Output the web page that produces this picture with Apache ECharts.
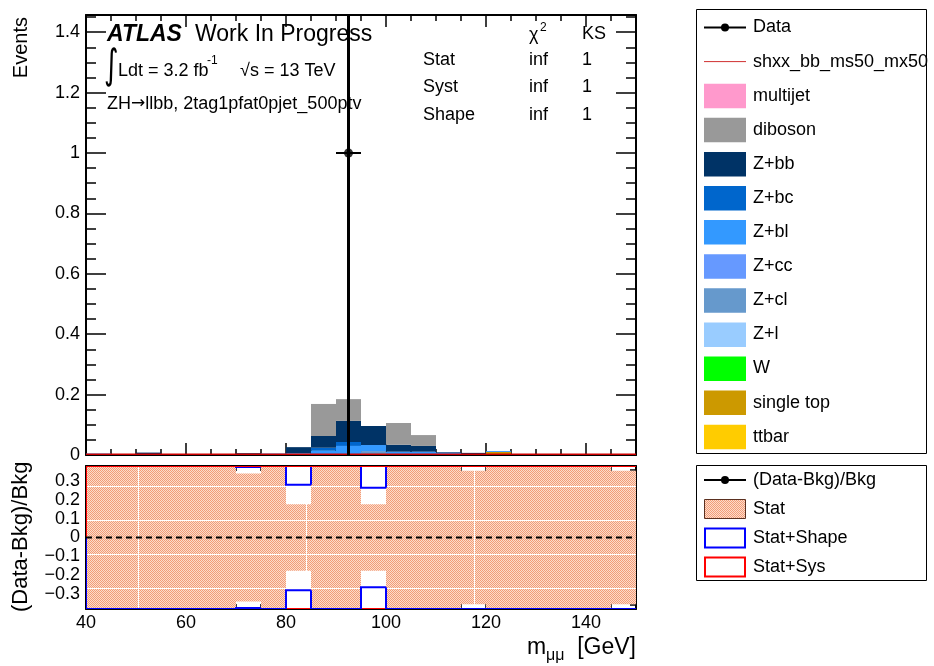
<!DOCTYPE html>
<html>
<head>
<meta charset="utf-8">
<script src="https://cdn.jsdelivr.net/npm/echarts@6/dist/echarts.min.js"></script>
<style>
  html, body { margin: 0; padding: 0; background: #ffffff; }
  #chart { width: 934px; height: 666px; }
</style>
</head>
<body>
<div id="chart"></div>
<script>
// ---- binning: 5 GeV bins of m_mumu from 40 to 150 GeV ----
const binLow = [40, 45, 50, 55, 60, 65, 70, 75, 80, 85, 90, 95, 100, 105, 110, 115, 120, 125, 130, 135, 140, 145];
const binWidth = 5;

// ---- background components (events per bin) ----
const ttbar     = [0, 0, 0, 0, 0, 0, 0, 0, 0, 0, 0, 0, 0, 0, 0, 0, 0, 0, 0, 0, 0, 0];
const singleTop = [0, 0, 0, 0, 0, 0, 0, 0, 0, 0, 0, 0, 0, 0, 0, 0, 0.010, 0, 0, 0, 0, 0];
const wjets     = [0, 0, 0, 0, 0, 0, 0, 0, 0, 0, 0, 0, 0, 0, 0, 0, 0, 0, 0, 0, 0, 0];
const zl        = [0, 0, 0, 0, 0, 0, 0, 0, 0, 0, 0, 0, 0, 0, 0, 0, 0, 0, 0, 0, 0, 0];
const zcl       = [0, 0, 0, 0, 0, 0.003, 0, 0, 0, 0, 0, 0.013, 0, 0, 0, 0, 0, 0, 0, 0, 0, 0];
const zcc       = [0, 0, 0, 0, 0, 0, 0, 0, 0, 0, 0, 0, 0, 0, 0, 0, 0, 0, 0, 0, 0, 0];
const zbl       = [0.005, 0, 0.002, 0, 0, 0, 0.002, 0.005, 0.006, 0.014, 0.030, 0.020, 0.011, 0.011, 0.008, 0.002, 0.003, 0, 0.002, 0, 0, 0];
const zbc       = [0, 0, 0, 0, 0, 0, 0, 0, 0, 0.010, 0.013, 0, 0, 0, 0, 0, 0, 0, 0, 0, 0, 0];
const zbb       = [0, 0, 0.006, 0, 0, 0, 0.004, 0, 0.020, 0.039, 0.070, 0.063, 0.023, 0.019, 0.002, 0.005, 0, 0, 0, 0, 0, 0];
const diboson   = [0, 0, 0, 0, 0, 0, 0, 0, 0, 0.106, 0.072, 0, 0.072, 0.036, 0, 0, 0, 0, 0, 0, 0, 0];
const multijet  = [0, 0, 0, 0, 0, 0, 0, 0, 0, 0, 0, 0, 0, 0, 0, 0, 0, 0, 0, 0, 0, 0];

// signal hypothesis shxx_bb_ms50_mx50
const signal    = [0, 0, 0, 0, 0, 0, 0, 0, 0, 0, 0, 0, 0, 0, 0, 0, 0, 0, 0, 0, 0, 0];

// observed data and its error bar (down / up)
const dataCounts  = [0, 0, 0, 0, 0, 0, 0, 0, 0, 0, 1, 0, 0, 0, 0, 0, 0, 0, 0, 0, 0, 0];
const dataErrDown = [0, 0, 0, 0, 0, 0, 0, 0, 0, 0, 1, 0, 0, 0, 0, 0, 0, 0, 0, 0, 0, 0];
const dataErrUp   = [0, 0, 0, 0, 0, 0, 0, 0, 0, 0, 1, 0, 0, 0, 0, 0, 0, 0, 0, 0, 0, 0];

// relative uncertainty bands of the background prediction
const statErr  = [0.6, 0.6, 0.6, 0.6, 0.6, 0.6, 0.34, 0.6, 0.177, 0.6, 0.6, 0.177, 0.6, 0.6, 0.6, 0.355, 0.6, 0.6, 0.6, 0.6, 0.6, 0.355];
const shapeErr = [0.9, 0.9, 0.9, 0.9, 0.9, 0.9, 0.375, 0.9, 0.28, 0.9, 0.9, 0.265, 0.9, 0.9, 0.9, 0.9, 0.9, 0.9, 0.9, 0.9, 0.9, 0.9];
const sysErr   = [1.2, 1.2, 1.2, 1.2, 1.2, 1.2, 1.2, 1.2, 1.2, 1.2, 1.2, 1.2, 1.2, 1.2, 1.2, 1.2, 1.2, 1.2, 1.2, 1.2, 1.2, 1.2];

// axis tick labels
const xTickValues = [40, 60, 80, 100, 120, 140];
const yTickValues = [0, 0.2, 0.4, 0.6, 0.8, 1, 1.2, 1.4];
const ratioTickValues = [-0.3, -0.2, -0.1, 0, 0.1, 0.2, 0.3];

// stacking order, bottom to top
const stackLayers = [
  { name: 'ttbar',      values: ttbar },
  { name: 'single top', values: singleTop },
  { name: 'W',          values: wjets },
  { name: 'Z+l',        values: zl },
  { name: 'Z+cl',       values: zcl },
  { name: 'Z+cc',       values: zcc },
  { name: 'Z+bl',       values: zbl },
  { name: 'Z+bc',       values: zbc },
  { name: 'Z+bb',       values: zbb },
  { name: 'diboson',    values: diboson },
  { name: 'multijet',   values: multijet }
];
const layerColor = {
  'ttbar': '#ffcc00', 'single top': '#cc9900', 'W': '#00ff00', 'Z+l': '#99ccff',
  'Z+cl': '#6699cc', 'Z+cc': '#6699ff', 'Z+bl': '#3399ff', 'Z+bc': '#0066cc',
  'Z+bb': '#003366', 'diboson': '#999999', 'multijet': '#ff99cc'
};

// ---- plot ranges ----
const X_MIN = 40, X_MAX = 150;
const Y_MIN = 0, Y_MAX = 1.457;
const R_MIN = -0.38, R_MAX = 0.38;
const FONT = '"Liberation Sans", Arial, Helvetica, sans-serif';

// total background per bin and the data/background ratio
const totalBkg = binLow.map((_, i) => stackLayers.reduce((s, l) => s + l.values[i], 0));
const ratioVals = binLow.map((_, i) => totalBkg[i] > 0 ? (dataCounts[i] - totalBkg[i]) / totalBkg[i] : null);

// dotted hatch tile for the statistical band (tile seams left light)
function makeHatch() {
  const W = 168, H = 34;
  const c = document.createElement('canvas');
  c.width = W; c.height = H;
  const g = c.getContext('2d');
  g.fillStyle = '#fcdccb'; g.fillRect(0, 0, W, H);
  g.fillStyle = '#f29c78';
  for (let y = 0; y < H; y++) {
    for (let x = (y % 2); x < W; x += 2) g.fillRect(x, y, 1, 1);
  }
  g.fillStyle = '#ffffff';
  g.fillRect(0, 10, W, 1);
  g.fillRect(138, 0, 1, H);
  return c;
}
const hatch = { image: makeHatch(), repeat: 'repeat' };

function steps(a, b, step) {
  const out = [];
  for (let v = a; v <= b + 1e-9; v += step) out.push(+v.toFixed(4));
  return out;
}
const xMinor = steps(40, 150, 5);
const yMinor = steps(0, 1.45, 0.05);
const rMinor = steps(-0.38, 0.38, 0.02).filter(v => v >= R_MIN && v <= R_MAX);

// ---- axes (major + minor sets on both sides of each frame) ----
function xAxisDef(grid, pos, values, len, labels, line) {
  return {
    type: 'value', gridIndex: grid, position: pos, min: X_MIN, max: X_MAX,
    axisLine: { show: line, onZero: false, lineStyle: { color: '#000', width: 2 } },
    axisTick: { show: true, inside: true, length: len, customValues: values, lineStyle: { color: '#000', width: 1.5 } },
    axisLabel: labels ? { show: true, customValues: values, margin: 5, color: '#000', fontFamily: FONT, fontSize: 18 } : { show: false },
    splitLine: { show: false }
  };
}
function yAxisDef(grid, pos, min, max, values, len, labels, line, fmt) {
  return {
    type: 'value', gridIndex: grid, position: pos, min: min, max: max,
    axisLine: { show: line, onZero: false, lineStyle: { color: '#000', width: 2 } },
    axisTick: { show: true, inside: true, length: len, customValues: values, lineStyle: { color: '#000', width: 1.5 } },
    axisLabel: labels ? { show: true, customValues: values, margin: 6, color: '#000', fontFamily: FONT, fontSize: 18, formatter: fmt } : { show: false },
    splitLine: { show: false }
  };
}
const minusFmt = v => (Math.abs(v) < 1e-9 ? '0' : String(+v.toFixed(2)).replace('-', '\u2212'));

const xAxes = [
  xAxisDef(0, 'bottom', xTickValues, 12, false, true),   // 0
  xAxisDef(0, 'bottom', xMinor, 6, false, false),        // 1
  xAxisDef(0, 'top', xTickValues, 12, false, true),      // 2
  xAxisDef(0, 'top', xMinor, 6, false, false),           // 3
  xAxisDef(1, 'bottom', xTickValues, 9, true, true),     // 4
  xAxisDef(1, 'bottom', xMinor, 5, false, false),        // 5
  xAxisDef(1, 'top', xTickValues, 9, false, true),       // 6
  xAxisDef(1, 'top', xMinor, 5, false, false)            // 7
];
const yAxes = [
  yAxisDef(0, 'left', Y_MIN, Y_MAX, yTickValues, 20, true, true, v => String(+v.toFixed(2))), // 0
  yAxisDef(0, 'left', Y_MIN, Y_MAX, yMinor, 10, false, false),  // 1
  yAxisDef(0, 'right', Y_MIN, Y_MAX, yTickValues, 20, false, true), // 2
  yAxisDef(0, 'right', Y_MIN, Y_MAX, yMinor, 10, false, false), // 3
  yAxisDef(1, 'left', R_MIN, R_MAX, ratioTickValues, 12, true, true, minusFmt), // 4
  yAxisDef(1, 'left', R_MIN, R_MAX, rMinor, 6, false, false),   // 5
  yAxisDef(1, 'right', R_MIN, R_MAX, ratioTickValues, 12, false, true), // 6
  yAxisDef(1, 'right', R_MIN, R_MAX, rMinor, 6, false, false)   // 7
];

// ---- series ----
const series = [];

// stacked background histogram
const cumulative = binLow.map(() => 0);
stackLayers.forEach(layer => {
  const rows = binLow.map((lo, i) => {
    const base = cumulative[i];
    cumulative[i] += layer.values[i];
    return [lo, lo + binWidth, base, cumulative[i]];
  });
  series.push({
    type: 'custom', name: layer.name, xAxisIndex: 0, yAxisIndex: 0, clip: true, z: 2,
    itemStyle: { color: layerColor[layer.name] },
    encode: { x: [0, 1], y: [2, 3] },
    data: rows,
    renderItem: (p, api) => {
      const lo = api.value(0), hi = api.value(1), b = api.value(2), t = api.value(3);
      if (!(t > b)) return null;
      const p0 = api.coord([lo, t]), p1 = api.coord([hi, b]);
      return { type: 'rect', shape: { x: p0[0], y: p0[1], width: p1[0] - p0[0], height: p1[1] - p0[1] },
               style: { fill: api.visual('color') } };
    }
  });
});

// histogram drawn as a step outline, values outside the frame pinned to its edge
function stepOutline(name, values, sign, color, width, xi, yi, lo, hi, z) {
  const rows = values.map((v, i) => [binLow[i], binLow[i] + binWidth, sign * v, i ? sign * values[i - 1] : 0]);
  return {
    type: 'custom', name: name, xAxisIndex: xi, yAxisIndex: yi, clip: true, z: z,
    encode: { x: [0, 1], y: [2] }, data: rows,
    renderItem: (p, api) => {
      const c = v => Math.max(lo, Math.min(hi, v));
      const a = api.value(0), b = api.value(1), v = c(api.value(2)), pv = c(api.value(3));
      return { type: 'polyline', shape: { points: [api.coord([a, pv]), api.coord([a, v]), api.coord([b, v])] },
               style: { stroke: color, lineWidth: width, fill: null } };
    }
  };
}
series.push(stepOutline('shxx_bb_ms50_mx50', signal, 1, '#cc0000', 3, 0, 0, Y_MIN, Y_MAX, 4));

// data error bars and markers
const dataRows = binLow.map((lo, i) => [lo + binWidth / 2, dataCounts[i], dataErrDown[i], dataErrUp[i]]).filter(r => r[1] > 0);
series.push({
  type: 'custom', name: 'Data errors', xAxisIndex: 0, yAxisIndex: 0, clip: true, z: 5,
  encode: { x: 0, y: 1 }, data: dataRows,
  renderItem: (p, api) => {
    const x = api.value(0), y = api.value(1);
    const lo = Math.max(Y_MIN, y - api.value(2)), hi = Math.min(Y_MAX, y + api.value(3));
    const v0 = api.coord([x, lo]), v1 = api.coord([x, hi]);
    const h0 = api.coord([x - binWidth / 2, y]), h1 = api.coord([x + binWidth / 2, y]);
    return { type: 'group', children: [
      { type: 'line', shape: { x1: v0[0], y1: v0[1], x2: v1[0], y2: v1[1] }, style: { stroke: '#000', lineWidth: 3 } },
      { type: 'line', shape: { x1: h0[0], y1: h0[1], x2: h1[0], y2: h1[1] }, style: { stroke: '#000', lineWidth: 2 } }
    ] };
  }
});
series.push({
  type: 'scatter', name: 'Data', xAxisIndex: 0, yAxisIndex: 0, z: 6,
  symbol: 'circle', symbolSize: 9, itemStyle: { color: '#000' },
  data: dataRows.map(r => [r[0], r[1]])
});

// ratio panel: statistical band
series.push({
  type: 'custom', name: 'Stat', xAxisIndex: 4, yAxisIndex: 4, clip: true, z: 2,
  encode: { x: [0, 1], y: [2] },
  data: binLow.map((lo, i) => [lo, lo + binWidth, statErr[i]]),
  renderItem: (p, api) => {
    const lo = api.value(0), hi = api.value(1), e = api.value(2);
    const p0 = api.coord([lo, Math.min(R_MAX, e)]), p1 = api.coord([hi, Math.max(R_MIN, -e)]);
    return { type: 'rect', shape: { x: p0[0], y: p0[1], width: p1[0] - p0[0], height: p1[1] - p0[1] },
             style: { fill: hatch } };
  }
});
// Stat+Shape and Stat+Sys envelopes
series.push(stepOutline('Stat+Shape up', shapeErr, 1, '#0000ff', 2, 4, 4, R_MIN, R_MAX, 3));
series.push(stepOutline('Stat+Sys up', sysErr, 1, '#ff0000', 2, 4, 4, R_MIN, R_MAX, 4));
series.push(stepOutline('Stat+Sys down', sysErr, -1, '#ff0000', 2, 4, 4, R_MIN, R_MAX, 4));
series.push(stepOutline('Stat+Shape down', shapeErr, -1, '#0000ff', 2, 4, 4, R_MIN, R_MAX, 5));

// zero reference line
series.push({
  type: 'line', name: 'zero', xAxisIndex: 4, yAxisIndex: 4, z: 6, symbol: 'none', silent: true,
  data: [[X_MIN, 0], [X_MAX, 0]],
  lineStyle: { color: '#000', width: 2, type: [6, 4] }
});
// (Data-Bkg)/Bkg points (all fall outside the displayed range here)
series.push({
  type: 'scatter', name: '(Data-Bkg)/Bkg', xAxisIndex: 4, yAxisIndex: 4, z: 7, clip: true,
  symbol: 'circle', symbolSize: 9, itemStyle: { color: '#000' },
  data: binLow.map((lo, i) => [lo + binWidth / 2, ratioVals[i]]).filter(r => r[1] !== null)
});

// ---- text and legends ----
const T = (x, y, text, size, extra) => ({
  type: 'text', x: x, y: y, z: 100,
  style: Object.assign({ text: text, fill: '#000', fontFamily: FONT, fontSize: size, align: 'left', verticalAlign: 'middle' }, (extra || {}))
});

const graphics = [];
// labels inside the main frame
graphics.push(T(107, 35, 'ATLAS', 23, { fontWeight: 'bold', fontStyle: 'italic' }));
graphics.push(T(195, 35, 'Work In Progress', 23));
graphics.push(Object.assign(T(104, 67, '\u222B', 28, { fontFamily: '"DejaVu Sans", sans-serif' }), { scaleY: 1.45 }));
graphics.push(T(118, 71, 'Ldt = 3.2 fb', 18));
graphics.push(T(207, 61, '-1', 12));
graphics.push(T(240, 71, '\u221As = 13 TeV', 18));
graphics.push(T(107, 104, '{a|ZH}{b|\u2192}{a|llbb, 2tag1pfat0pjet_500ptv}', 18, {
  rich: {
    a: { fontFamily: FONT, fontSize: 18, fill: '#000' },
    b: { fontFamily: '"DejaVu Sans", sans-serif', fontSize: 17, fill: '#000' }
  }
}));
// fit quality table
graphics.push(T(529, 35, '\u03C7', 18));
graphics.push(T(540, 28, '2', 12));
graphics.push(T(582, 34, 'KS', 18));
[['Stat', 60], ['Syst', 87.5], ['Shape', 115]].forEach(r => {
  graphics.push(T(423, r[1], r[0], 18));
  graphics.push(T(529, r[1], 'inf', 18));
  graphics.push(T(582, r[1], '1', 18));
});

// axis titles
graphics.push(Object.assign(T(21, 17, 'Events', 20, { align: 'right' }), { rotation: Math.PI / 2 }));
graphics.push(Object.assign(T(21, 612, '(Data-Bkg)/Bkg', 22, { align: 'left' }), { rotation: Math.PI / 2 }));
graphics.push(T(527, 648, 'm', 23));
graphics.push(T(546, 656, '\u03BC\u03BC', 16));
graphics.push(T(636, 648, '[GeV]', 23, { align: 'right' }));

// upper legend
graphics.push({ type: 'rect', z: 90, shape: { x: 696.5, y: 9.5, width: 230, height: 444 }, style: { fill: '#fff', stroke: '#000', lineWidth: 1 } });
const legendRows = [
  { label: 'Data', kind: 'data' },
  { label: 'shxx_bb_ms50_mx50', kind: 'line', color: '#d03030' },
  { label: 'multijet', kind: 'box', color: layerColor['multijet'] },
  { label: 'diboson', kind: 'box', color: layerColor['diboson'] },
  { label: 'Z+bb', kind: 'box', color: layerColor['Z+bb'] },
  { label: 'Z+bc', kind: 'box', color: layerColor['Z+bc'] },
  { label: 'Z+bl', kind: 'box', color: layerColor['Z+bl'] },
  { label: 'Z+cc', kind: 'box', color: layerColor['Z+cc'] },
  { label: 'Z+cl', kind: 'box', color: layerColor['Z+cl'] },
  { label: 'Z+l', kind: 'box', color: layerColor['Z+l'] },
  { label: 'W', kind: 'box', color: layerColor['W'] },
  { label: 'single top', kind: 'box', color: layerColor['single top'] },
  { label: 'ttbar', kind: 'box', color: layerColor['ttbar'] }
];
legendRows.forEach((r, i) => {
  const y = 27.5 + i * 34.1;
  if (r.kind === 'data') {
    graphics.push({ type: 'line', z: 95, shape: { x1: 704, y1: y, x2: 746, y2: y }, style: { stroke: '#000', lineWidth: 2 } });
    graphics.push({ type: 'circle', z: 96, shape: { cx: 725, cy: y, r: 4 }, style: { fill: '#000' } });
  } else if (r.kind === 'line') {
    graphics.push({ type: 'line', z: 95, shape: { x1: 704, y1: y, x2: 746, y2: y }, style: { stroke: r.color, lineWidth: 1 } });
  } else {
    graphics.push({ type: 'rect', z: 95, shape: { x: 704, y: y - 12, width: 42, height: 24.5 }, style: { fill: r.color } });
  }
  graphics.push(T(753, y, r.label, 18));
});

// ratio legend
graphics.push({ type: 'rect', z: 90, shape: { x: 696.5, y: 465.5, width: 230, height: 115 }, style: { fill: '#fff', stroke: '#000', lineWidth: 1 } });
const ratioLegend = [
  { label: '(Data-Bkg)/Bkg', y: 480 },
  { label: 'Stat', y: 509 },
  { label: 'Stat+Shape', y: 538 },
  { label: 'Stat+Sys', y: 567 }
];
graphics.push({ type: 'line', z: 95, shape: { x1: 704, y1: 480, x2: 746, y2: 480 }, style: { stroke: '#000', lineWidth: 2 } });
graphics.push({ type: 'circle', z: 96, shape: { cx: 725, cy: 480, r: 4 }, style: { fill: '#000' } });
graphics.push({ type: 'rect', z: 95, shape: { x: 704.5, y: 499.5, width: 41, height: 19 }, style: { fill: hatch, stroke: '#5a3020', lineWidth: 1 } });
graphics.push({ type: 'rect', z: 95, shape: { x: 705, y: 528.5, width: 40, height: 19 }, style: { fill: '#fff', stroke: '#0000ff', lineWidth: 2 } });
graphics.push({ type: 'rect', z: 95, shape: { x: 705, y: 557.5, width: 40, height: 19 }, style: { fill: '#fff', stroke: '#ff0000', lineWidth: 2 } });
ratioLegend.forEach(r => graphics.push(T(753, r.y, r.label, 18)));

const option = {
  animation: false,
  backgroundColor: '#ffffff',
  grid: [
    { left: 86, top: 15, width: 550, height: 440 },
    { left: 86, top: 466, width: 550, height: 143 }
  ],
  xAxis: xAxes,
  yAxis: yAxes,
  series: series,
  graphic: graphics
};

const chart = echarts.init(document.getElementById('chart'), null, { renderer: 'canvas' });
chart.setOption(option);
</script>
</body>
</html>
